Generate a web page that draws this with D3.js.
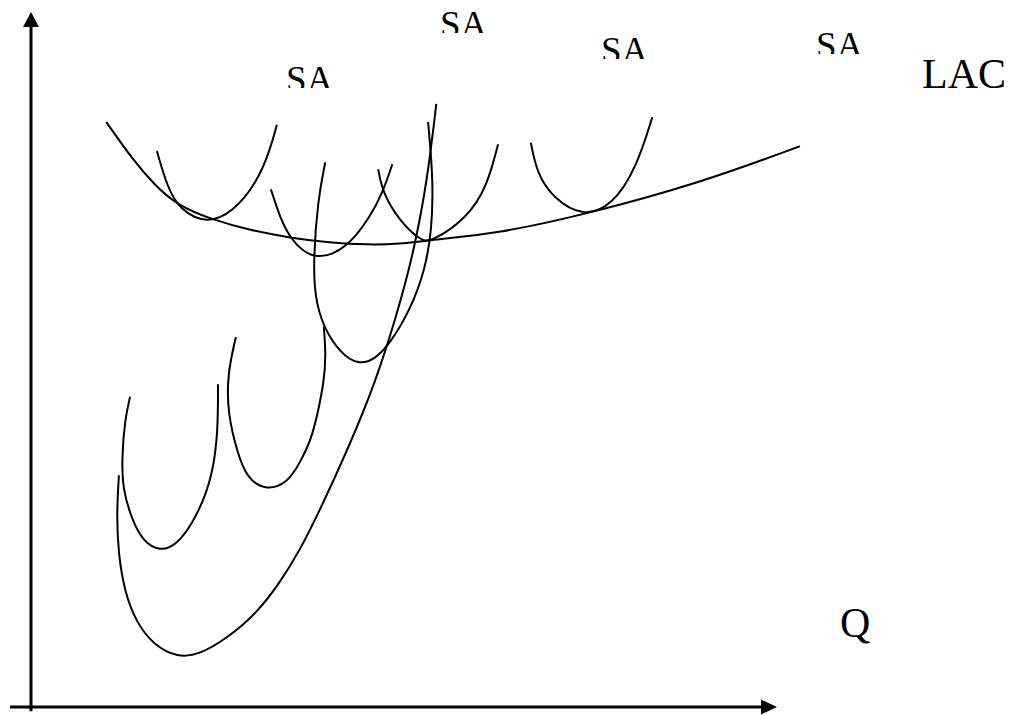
<!DOCTYPE html>
<html>
<head>
<meta charset="utf-8">
<script src="https://cdn.jsdelivr.net/npm/d3@7"></script>
<style>
  body { margin: 0; background: #fff; }
  svg { display: block; }
  .curve { fill: none; stroke: #000; stroke-width: 2; }
  .axis-line { stroke: #000; stroke-width: 3; }
  .label { font-family: "Liberation Serif", "Times New Roman", serif; fill: #000; }
</style>
</head>
<body>
<div id="chart"></div>
<script>
// Long-run average cost envelope (Q, cost)
const lac = [
  [10.1, 84.3], [13.7, 78.8], [16.6, 75.2], [19.6, 72.3], [24.4, 70.2],
  [29.4, 68.7], [34.8, 67.6], [40.1, 66.9], [45.1, 66.6], [49.5, 66.7],
  [53.6, 67.3], [63.0, 68.3], [74.1, 70.9], [89.8, 75.5], [103.2, 80.8]
];

// Short-run average cost curves, upper row
const sac1 = [[16.9, 80.1], [18.3, 74.9], [20.0, 71.6], [23.6, 69.6], [27.1, 71.3], [30.3, 75.5], [32.1, 80.3], [33.0, 83.9]];
const sac2 = [[32.2, 74.6], [33.4, 70.6], [34.8, 67.4], [37.9, 64.2], [42.4, 66.0], [45.5, 70.6], [47.2, 74.1], [48.5, 78.2]];
const sac3 = [[46.6, 77.5], [47.2, 74.1], [49.5, 70.0], [52.2, 67.3], [53.6, 66.9], [58.5, 70.4], [61.2, 74.9], [62.7, 81.1]];
const sac4 = [[67.1, 81.3], [67.9, 76.9], [70.1, 73.3], [74.1, 70.6], [78.1, 72.3], [81.3, 77.8], [83.4, 85.0]];

// Deep curves hanging below the envelope
const sacDeepA = [
  [39.5, 78.5], [38.5, 73.1], [37.9, 64.4], [38.1, 59.1], [39.2, 54.8], [41.5, 51.0], [43.9, 49.3],
  [46.2, 50.1], [48.2, 52.4], [50.9, 57.2], [52.9, 63.0], [53.8, 68.7], [54.0, 75.9], [53.3, 84.3]
];
const sacLow1 = [
  [13.3, 44.7], [12.6, 41.4], [12.2, 36.0], [12.3, 31.3], [13.6, 26.9], [15.0, 23.9], [17.3, 22.4],
  [19.6, 23.4], [21.7, 26.5], [23.6, 30.8], [24.7, 35.6], [25.1, 40.9], [25.1, 46.5]
];
const sacLow2 = [
  [27.5, 53.3], [26.8, 50.0], [26.4, 47.1], [26.4, 42.4], [27.7, 36.6], [29.0, 33.0], [31.4, 31.2],
  [34.4, 32.2], [36.1, 35.2], [37.6, 38.5], [38.5, 42.4], [39.3, 46.7], [39.6, 50.7], [39.3, 54.8]
];
const sacBig = [
  [11.8, 33.4], [11.5, 28.0], [11.7, 22.2], [12.6, 16.4], [14.2, 12.1], [16.4, 9.0], [19.7, 7.1],
  [22.7, 7.6], [26.3, 9.9], [30.3, 13.5], [33.4, 17.9], [36.1, 22.6], [38.8, 28.4], [42.8, 37.8],
  [46.2, 46.7], [48.9, 55.8], [51.3, 65.1], [53.2, 75.9], [54.4, 86.9]
];

const curves = [lac, sac1, sac2, sac3, sac4, sacDeepA, sacLow1, sacLow2, sacBig];

const saLabels = ['SA', 'SA', 'SA', 'SA'];
const lacLabel = 'LAC';
const qLabel = 'Q';

const width = 1021;
const height = 715;

const svg = d3.select('#chart').append('svg')
  .attr('width', width)
  .attr('height', height);

const x = d3.scaleLinear().domain([0, 100]).range([31, 776]);
const y = d3.scaleLinear().domain([0, 100]).range([707, 13]);

// Axes with arrowheads
svg.append('line').attr('class', 'axis-line')
  .attr('x1', x(0)).attr('y1', y(-0.6))
  .attr('x2', x(0)).attr('y2', y(100) + 14);
svg.append('path')
  .attr('d', `M${x(0)},${y(100) - 1} L${x(0) - 8},${y(100) + 14} L${x(0) + 8},${y(100) + 14} Z`)
  .attr('fill', '#000');

svg.append('line').attr('class', 'axis-line')
  .attr('x1', x(-2.8)).attr('y1', y(0))
  .attr('x2', x(100) - 15).attr('y2', y(0));
svg.append('path')
  .attr('d', `M${x(100) + 1},${y(0)} L${x(100) - 15},${y(0) - 7.5} L${x(100) - 15},${y(0) + 7.5} Z`)
  .attr('fill', '#000');

// Cost curves
const line = d3.line()
  .x(d => x(d[0]))
  .y(d => y(d[1]))
  .curve(d3.curveBasis);

svg.append('g').selectAll('path')
  .data(curves)
  .join('path')
  .attr('class', 'curve')
  .attr('d', line);

// SA labels, clipped at the bottom like in the source
const saPos = [
  { x: 286, base: 91.5 },
  { x: 440, base: 36.5 },
  { x: 601, base: 62.5 },
  { x: 816, base: 57.5 }
];
const defs = svg.append('defs');
saLabels.forEach((t, i) => {
  const p = saPos[i];
  defs.append('clipPath').attr('id', `sa-clip-${i}`)
    .append('rect')
    .attr('x', p.x - 5).attr('y', 0)
    .attr('width', 70).attr('height', p.base - 3.5);
  svg.append('text')
    .attr('class', 'label')
    .attr('clip-path', `url(#sa-clip-${i})`)
    .attr('x', p.x).attr('y', p.base)
    .attr('font-family', 'Liberation Serif')
    .attr('font-size', 37)
    .text(t);
});

svg.append('text').attr('class', 'label')
  .attr('x', 922).attr('y', 88)
  .attr('font-family', 'Liberation Serif')
  .attr('font-size', 42)
  .text(lacLabel);

svg.append('text').attr('class', 'label')
  .attr('x', 840).attr('y', 637)
  .attr('font-family', 'Liberation Serif')
  .attr('font-size', 42)
  .text(qLabel);
</script>
</body>
</html>
